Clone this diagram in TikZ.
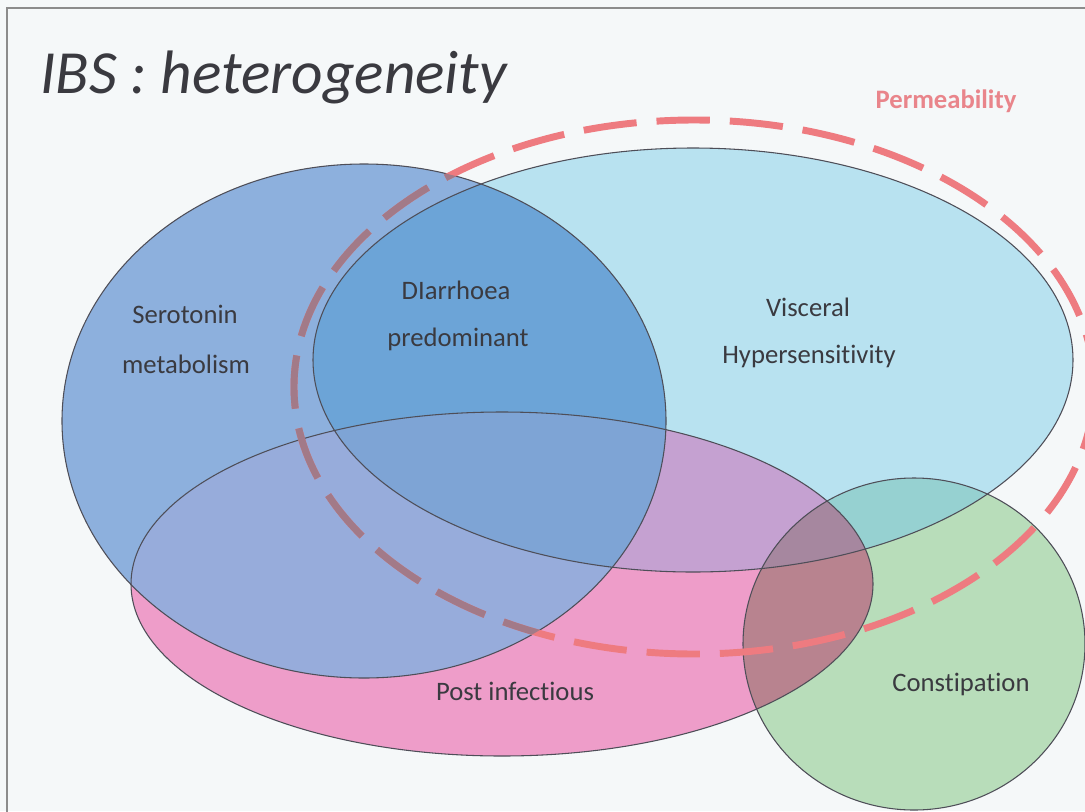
\documentclass[tikz,border=0pt]{standalone}
\usepackage{fontspec}
\setmainfont{Carlito}[Ligatures=NoCommon]
\definecolor{bgc}{HTML}{F5F8F9}
\definecolor{scol}{HTML}{8DB0DD}
\definecolor{vcol}{HTML}{B8E2F0}
\definecolor{pcol}{HTML}{EE9DC9}
\definecolor{gcol}{HTML}{B8DDBA}
\definecolor{svcol}{HTML}{6CA4D7}
\definecolor{spcol}{HTML}{97ACDB}
\definecolor{svpcol}{HTML}{7EA4D5}
\definecolor{vpcol}{HTML}{C5A1D1}
\definecolor{vgcol}{HTML}{96D1D1}
\definecolor{pgcol}{HTML}{B8838F}
\definecolor{vpgcol}{HTML}{A6879F}
\definecolor{dashcol}{HTML}{EE7B80}
\definecolor{dashmuted}{HTML}{A27A88}
\definecolor{permcol}{HTML}{E9858B}
\definecolor{txt}{HTML}{3A3A40}
\definecolor{framecol}{HTML}{8C8C8C}
\definecolor{edgecol}{HTML}{4E4E58}
\def\ellS{(364,421) ellipse [x radius=226.5pt, y radius=192.75pt]}
\def\ellV{(693,360) ellipse [x radius=285pt, y radius=159pt]}
\def\ellP{(502,584) ellipse [x radius=278.25pt, y radius=129pt]}
\def\ellG{(914,644) ellipse [x radius=128.25pt, y radius=124.5pt]}
\def\ellD{(694,387) ellipse [x radius=300pt, y radius=200.25pt]}
\tikzset{
  lab/.style={text=txt, font=\fontsize{20}{24}\selectfont, anchor=base, inner sep=0pt},
  outline/.style={draw=edgecol, line width=0.8pt},
  permdash/.style={line width=5.2pt, dash pattern=on 40pt off 15pt}
}
\begin{document}
\begin{tikzpicture}[x=0.75pt,y=-0.75pt]
\useasboundingbox (0,0) rectangle (1085,811);
\clip (0,0) rectangle (1085,811);
\fill[bgc] (0,0) rectangle (1085,811);
\draw[framecol, line width=2pt] (7,815) -- (7,8) -- (1090,8);
% base fills
\fill[vcol] \ellV;
\fill[pcol] \ellP;
\fill[gcol] \ellG;
\fill[scol] \ellS;
% pairwise overlaps
\begin{scope}\clip \ellV; \fill[vpcol] \ellP; \end{scope}
\begin{scope}\clip \ellV; \fill[vgcol] \ellG; \end{scope}
\begin{scope}\clip \ellP; \fill[pgcol] \ellG; \end{scope}
\begin{scope}\clip \ellS; \fill[svcol] \ellV; \end{scope}
\begin{scope}\clip \ellS; \fill[spcol] \ellP; \end{scope}
% triple overlaps
\begin{scope}\clip \ellV; \clip \ellP; \fill[vpgcol] \ellG; \end{scope}
\begin{scope}\clip \ellS; \clip \ellV; \fill[svpcol] \ellP; \end{scope}
% outlines
\path[outline] \ellV;
\path[outline] \ellP;
\path[outline] \ellG;
\path[outline] \ellS;
% permeability dashed ellipse
\draw[dashcol, permdash] \ellD;
\begin{scope}\clip \ellS; \draw[dashmuted, permdash] \ellD; \end{scope}
% texts
\node[text=txt, font=\fontsize{46}{54}\selectfont\itshape, anchor=base west, inner sep=0pt] (title) at (40,93) {IBS : heterogeneity};
\node[text=permcol, font=\fontsize{20}{24}\selectfont\bfseries, anchor=base, inner sep=0pt] (perm) at (946,108) {Permeability};
\node[lab] (ser1) at (185,323) {Serotonin};
\node[lab] (ser2) at (186,373) {metabolism};
\node[lab] (dia1) at (456,299) {DIarrhoea};
\node[lab] (dia2) at (458,346) {predominant};
\node[lab] (vis1) at (808,316) {Visceral};
\node[lab] (vis2) at (809,363) {Hypersensitivity};
\node[lab] (post) at (515,700) {Post infectious};
\node[lab] (cons) at (961,691) {Constipation};
\end{tikzpicture}
\end{document}
